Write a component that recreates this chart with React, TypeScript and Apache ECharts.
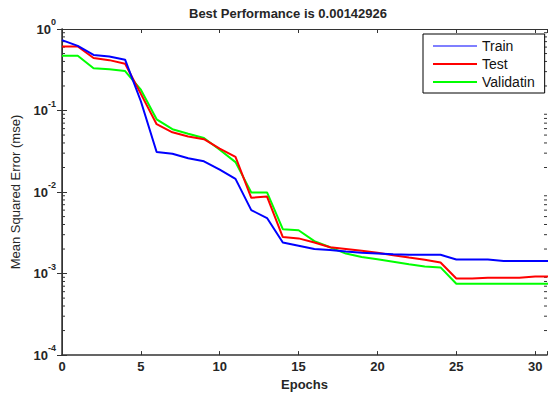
import React, { useEffect, useRef } from "react";
import * as echarts from "echarts";

const epochs = [0, 1, 2, 3, 4, 5, 6, 7, 8, 9, 10, 11, 12, 13, 14, 15, 16, 17, 18, 19, 20, 21, 22, 23, 24, 25, 26, 27, 28, 29, 30, 31];
const train = [0.73, 0.62, 0.48, 0.46, 0.42, 0.13, 0.031, 0.0295, 0.026, 0.0238, 0.0188, 0.0145, 0.006, 0.0048, 0.0024, 0.0022, 0.002, 0.00195, 0.00186, 0.0018, 0.00176, 0.00172, 0.0017, 0.0017, 0.0017, 0.00149, 0.00149, 0.00149, 0.00143, 0.00143, 0.00143, 0.00143];
const test = [0.61, 0.61, 0.44, 0.415, 0.375, 0.16, 0.068, 0.054, 0.048, 0.0445, 0.034, 0.027, 0.0085, 0.0088, 0.0028, 0.0027, 0.0024, 0.0021, 0.002, 0.0019, 0.0018, 0.00168, 0.00157, 0.00148, 0.00137, 0.00087, 0.00087, 0.00089, 0.00089, 0.00089, 0.00092, 0.00092];
const validation = [0.47, 0.47, 0.33, 0.32, 0.305, 0.18, 0.078, 0.059, 0.052, 0.046, 0.033, 0.0233, 0.0099, 0.0099, 0.0035, 0.0034, 0.0025, 0.0021, 0.00176, 0.0016, 0.0015, 0.0014, 0.0013, 0.00122, 0.00119, 0.00075, 0.00075, 0.00075, 0.00075, 0.00075, 0.00075, 0.00075];
const seriesNames = ["Train", "Test", "Validatin"];
const titleText = "Best Performance is 0.00142926";
const xTicks = [0, 5, 10, 15, 20, 25, 30];
const minorTickValues = [
  2e-4, 3e-4, 4e-4, 5e-4, 6e-4, 7e-4, 8e-4, 9e-4,
  2e-3, 3e-3, 4e-3, 5e-3, 6e-3, 7e-3, 8e-3, 9e-3,
  2e-2, 3e-2, 4e-2, 5e-2, 6e-2, 7e-2, 8e-2, 9e-2,
  0.2, 0.3, 0.4, 0.5, 0.6, 0.7, 0.8, 0.9,
];

const X_MAX = 30.75;
const FONT = "'Liberation Sans', Arial, sans-serif";
const TXT = "#262626";
const AX = "#333";

export default function App() {
  const ref = useRef<HTMLDivElement>(null);
  useEffect(() => {
    if (!ref.current) return;
    const chart = echarts.init(ref.current, null, { renderer: "svg" });
    const pair = (arr: number[]) => epochs.map((e, i) => [e, arr[i]]);
    const yLabel = (v: number) => {
      const e = Math.round(Math.log10(v));
      return "{b|10}{s|" + e + "}";
    };
    chart.setOption({
      animation: false,
      backgroundColor: "#fff",
      textStyle: { fontFamily: FONT },
      title: {
        text: titleText,
        left: 189,
        top: 7,
        padding: 0,
        textStyle: { fontFamily: FONT, fontSize: 13, fontWeight: "bold", color: TXT },
      },
      grid: { left: 62, right: 0, top: 29, bottom: 37, containLabel: false },
      legend: {
        orient: "vertical",
        left: 423,
        top: 34,
        padding: [4, 10, 3, 10],
        itemWidth: 44,
        itemHeight: 2,
        itemGap: 2,
        borderColor: "#000",
        borderWidth: 1,
        backgroundColor: "#fff",
        textStyle: { fontFamily: FONT, fontSize: 14, lineHeight: 16, color: "#111" },
        data: [
          { name: seriesNames[0], icon: "rect", itemStyle: { color: "#7f7fff" } },
          { name: seriesNames[1], icon: "rect" },
          { name: seriesNames[2], icon: "rect" },
        ],
      },
      xAxis: [
        {
          type: "value",
          min: 0,
          max: X_MAX,
          interval: 5,
          position: "bottom",
          name: "Epochs",
          nameLocation: "middle",
          nameGap: 21,
          nameTextStyle: { fontFamily: FONT, fontSize: 13, fontWeight: "bold", color: TXT },
          axisLine: { show: true, lineStyle: { color: AX, width: 1.5 } },
          axisTick: { show: true, inside: true, length: 4, lineStyle: { color: AX } },
          axisLabel: {
            margin: 5,
            fontFamily: FONT,
            fontSize: 13,
            fontWeight: "bold",
            color: TXT,
            formatter: (v: number) => (xTicks.includes(v) ? String(v) : ""),
          },
          splitLine: { show: false },
        },
        {
          type: "value",
          min: 0,
          max: X_MAX,
          interval: 5,
          position: "top",
          axisLine: { show: true, lineStyle: { color: AX, width: 1 } },
          axisTick: { show: true, inside: true, length: 4, lineStyle: { color: AX } },
          axisLabel: { show: false },
          splitLine: { show: false },
        },
      ],
      yAxis: [
        {
          type: "log",
          logBase: 10,
          min: 1e-4,
          max: 1,
          position: "left",
          name: "Mean Squared Error (mse)",
          nameLocation: "middle",
          nameGap: 40,
          nameTextStyle: { fontFamily: FONT, fontSize: 13, color: TXT },
          axisLine: { show: true, lineStyle: { color: AX, width: 1.5 } },
          axisTick: { show: true, inside: true, length: 5, lineStyle: { color: AX } },
          axisLabel: {
            margin: 6,
            color: TXT,
            formatter: yLabel,
            rich: {
              b: { fontFamily: FONT, fontSize: 13, fontWeight: "bold", color: TXT, lineHeight: 13, padding: [5, 0, 5, 0] },
              s: { fontFamily: FONT, fontSize: 9, fontWeight: "bold", color: TXT, lineHeight: 9, padding: [0, 0, 14, 0] },
            },
          },
          splitLine: { show: false },
        },
        {
          type: "log",
          logBase: 10,
          min: 1e-4,
          max: 1,
          position: "right",
          axisLine: { show: true, lineStyle: { color: AX, width: 1 } },
          axisTick: { show: true, inside: true, length: 5, lineStyle: { color: AX } },
          axisLabel: { show: false },
          splitLine: { show: false },
        },
      ],
      series: [
        {
          name: seriesNames[0],
          type: "line",
          data: pair(train),
          symbol: "none",
          lineStyle: { color: "#0000ff", width: 2 },
          itemStyle: { color: "#0000ff" },
          z: 4,
        },
        {
          name: seriesNames[1],
          type: "line",
          data: pair(test),
          symbol: "none",
          lineStyle: { color: "#ff0000", width: 2 },
          itemStyle: { color: "#ff0000" },
          z: 3,
        },
        {
          name: seriesNames[2],
          type: "line",
          data: pair(validation),
          symbol: "none",
          lineStyle: { color: "#00ff00", width: 2 },
          itemStyle: { color: "#00ff00" },
          z: 2,
        },
        {
          name: "minorTicks",
          type: "custom",
          silent: true,
          clip: false,
          data: minorTickValues.map((v) => [0, v]),
          encode: { x: 0, y: 1 },
          renderItem: (params: any, api: any) => {
            const v = api.value(1);
            const pL = api.coord([0, v]);
            const pR = api.coord([X_MAX, v]);
            return {
              type: "group",
              children: [
                { type: "line", shape: { x1: pL[0], y1: pL[1], x2: pL[0] + 3, y2: pL[1] }, style: { stroke: AX, lineWidth: 1 } },
                { type: "line", shape: { x1: pR[0] - 3, y1: pR[1], x2: pR[0], y2: pR[1] }, style: { stroke: AX, lineWidth: 1 } },
              ],
            };
          },
          z: 1,
        },
      ],
    });
    return () => chart.dispose();
  }, []);
  return (
    <div
      ref={ref}
      style={{ position: "absolute", left: 0, top: 0, width: 550, height: 396 }}
    />
  );
}
